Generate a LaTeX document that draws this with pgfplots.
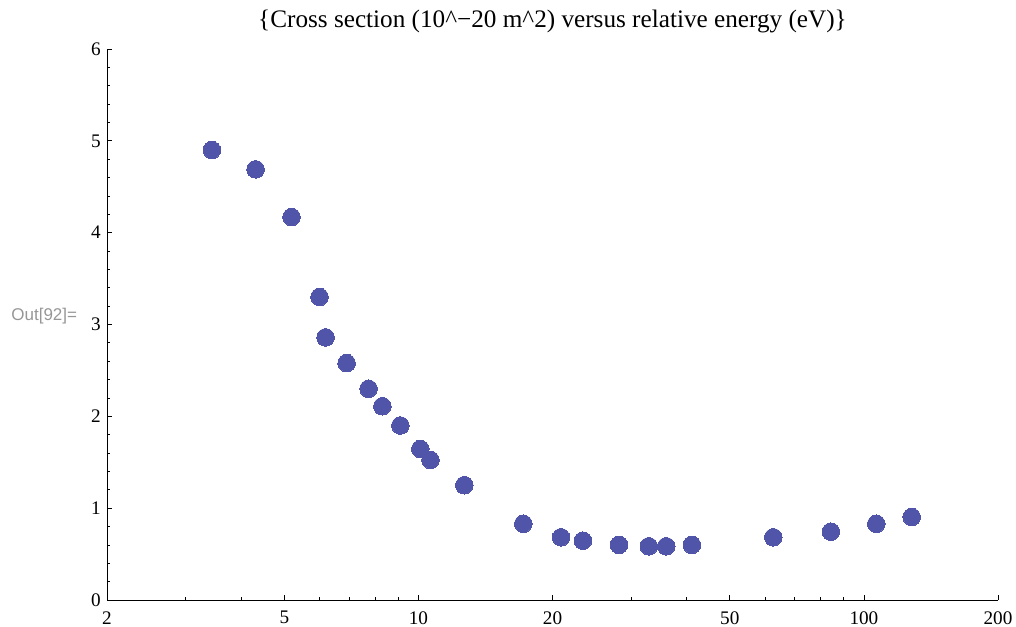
\documentclass[border=0pt]{standalone}
\usepackage{fontspec}
\setmainfont{Liberation Serif}
\newfontfamily\outfont{Liberation Sans}
\usepackage{pgfplots}
\pgfplotsset{compat=1.18}
\definecolor{pt}{RGB}{80,85,170}
\definecolor{outgray}{RGB}{150,150,150}
\begin{document}
\begin{tikzpicture}
\useasboundingbox (-53.5pt,-13pt) rectangle (454.5pt,300pt);
\begin{axis}[
  at={(0,0)}, anchor=south west,
  scale only axis, width=445.5pt, height=275.5pt,
  xmode=log, xmin=2, xmax=200, ymin=0, ymax=6,
  axis lines*=left,
  axis line style={line width=0.5pt, black},
  tick align=inside,
  tick style={line width=0.4pt, black},
  major tick length=2.75pt, minor tick length=1.6pt,
  xtick={2,5,10,20,50,100,200},
  xticklabels={2,5,10,20,50,100,200},
  minor xtick={3,4,6,7,8,9,30,40,60,70,80,90},
  ytick={0,1,2,3,4,5,6},
  minor ytick={0.2,0.4,0.6,0.8,1.2,1.4,1.6,1.8,2.2,2.4,2.6,2.8,3.2,3.4,3.6,3.8,4.2,4.4,4.6,4.8,5.2,5.4,5.6,5.8},
  yticklabels={0,1,2,3,4,5,6},
  ticklabel style={font=\fontsize{9.6}{10}\selectfont},
  xticklabel style={inner sep=0pt, anchor=north, yshift=-5.5pt},
  yticklabel style={inner sep=0pt, anchor=east, xshift=-3pt},
  title={\{Cross section (10\textasciicircum{}−20 m\textasciicircum{}2) versus relative energy (eV)\}},
  title style={font=\fontsize{12.6}{13}\selectfont, at={(0.5,1)}, anchor=base, yshift=5pt, inner sep=0pt},
  clip=false,
]
\addplot[only marks, mark=*, color=pt, mark size=4.4pt, mark options={fill=pt, draw=pt, line width=0pt}] coordinates {
(3.44,4.90) (4.31,4.69) (5.19,4.17) (6.00,3.30) (6.19,2.86) (6.90,2.58)
(7.73,2.30) (8.30,2.11) (9.11,1.90) (10.1,1.645) (10.64,1.525) (12.68,1.25)
(17.2,0.83) (20.9,0.683) (23.4,0.646) (28.2,0.60) (32.9,0.585) (36.0,0.585)
(41.1,0.60) (62.6,0.683) (84.3,0.744) (106.6,0.83) (128,0.904)
};
\end{axis}
\node[anchor=base west, inner sep=0pt, text=outgray, font=\outfont\fontsize{8.5}{9}\selectfont] at (-48pt,139.5pt) {Out[92]=};
\end{tikzpicture}
\end{document}
